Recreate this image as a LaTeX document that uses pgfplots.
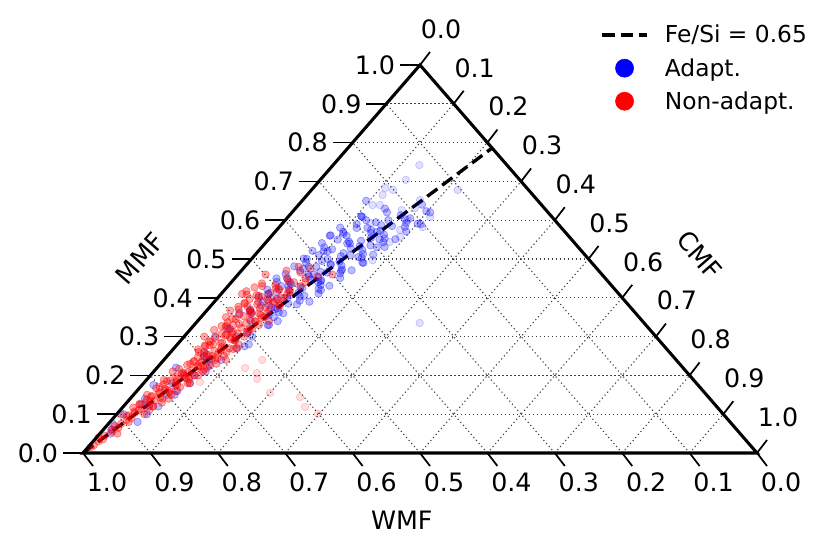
\documentclass[border=0pt]{standalone}
\usepackage{pgfplots}
\pgfplotsset{compat=1.18}
\usepackage{pgfplotstable}
\usepackage{fontspec}
\setmainfont{DejaVu Sans}

\pgfplotsset{
  dotleg/.style={legend image code/.code={\fill[##1] (17pt,0pt) circle (6.8pt);}},
  lineleg/.style={legend image code/.code={\draw[##1] (0pt,0pt) -- (34pt,0pt);}},
}

\pgfplotstableread{
m c
0.02 0.006
0.04 0.003
0.05 0.026
0.07 0.012
0.08 0.028
0.10 0.006
0.11 0.0275
0.12 0.044
0.13 0.028
0.14 0.057
0.15 0.020
0.16 0.048
0.17 0.029
0.18 0.065
0.19 0.045
0.20 0.065
0.21 0.028
0.22 0.061
0.23 0.044
0.24 0.092
0.25 0.066
0.26 0.042
0.27 0.093
0.28 0.053
0.29 0.080
0.30 0.030
0.31 0.0655
0.32 0.091
0.33 0.058
0.34 0.106
0.35 0.037
0.36 0.081
0.37 0.046
0.38 0.101
0.39 0.065
0.40 0.094
0.41 0.031
0.42 0.081
0.43 0.051
0.44 0.110
0.45 0.078
0.46 0.041
0.125 0.021
0.135 0.038
0.145 0.0285
0.155 0.050
0.165 0.039
0.175 0.052
0.185 0.032
0.195 0.053
0.205 0.044
0.215 0.072
0.225 0.058
0.235 0.047
0.245 0.077
0.255 0.056
0.265 0.072
0.275 0.044
0.285 0.064
0.295 0.079
0.305 0.060
0.315 0.088
0.325 0.049
0.335 0.075
0.345 0.054
0.355 0.086
0.365 0.065
0.375 0.083
0.385 0.047
0.395 0.076
0.405 0.058
0.415 0.099
0.425 0.074
0.188 0.026
0.208 0.052
0.228 0.073
0.248 0.056
0.268 0.089
0.288 0.043
0.308 0.075
0.328 0.049
0.348 0.091
0.368 0.064
0.388 0.088
0.408 0.039
0.198 0.060
0.238 0.058
0.258 0.072
0.278 0.049
0.298 0.069
0.318 0.058
0.338 0.087
0.358 0.070
0.378 0.055
0.398 0.089
0.097 0.019
0.103 0.025
0.100 0.041
0.107 0.023
0.113 0.0305
0.110 0.043
0.117 0.016
0.123 0.036
0.120 0.044
0.127 0.021
0.133 0.034
0.130 0.052
0.137 0.026
0.143 0.043
0.140 0.048
0.147 0.029
0.153 0.037
0.150 0.056
0.157 0.034
0.163 0.043
0.160 0.058
0.167 0.025
0.173 0.050
0.170 0.059
0.177 0.031
0.183 0.047
0.180 0.068
0.187 0.036
0.193 0.056
0.190 0.062
0.197 0.0395
0.203 0.0485
0.200 0.071
0.207 0.045
0.213 0.0555
0.210 0.073
0.217 0.034
0.223 0.063
0.220 0.074
0.227 0.041
0.233 0.059
0.230 0.083
0.237 0.046
0.243 0.070
0.240 0.076
0.247 0.047
0.253 0.058
0.250 0.084
0.257 0.051
0.263 0.0635
0.260 0.083
0.267 0.037
0.273 0.069
0.270 0.082
0.277 0.042
0.283 0.063
0.280 0.091
0.287 0.046
0.293 0.073
0.290 0.080
0.297 0.048
0.303 0.060
0.300 0.089
0.307 0.052
0.313 0.066
0.310 0.088
0.317 0.036
0.323 0.073
0.320 0.087
0.327 0.042
0.333 0.065
0.330 0.096
0.337 0.046
0.343 0.076
0.340 0.085
0.347 0.048
0.353 0.0615
0.350 0.094
0.357 0.053
0.363 0.0685
0.360 0.093
0.367 0.035
0.373 0.076
0.370 0.092
0.377 0.042
0.383 0.067
0.380 0.102
0.387 0.0465
0.393 0.079
0.390 0.089
0.397 0.049
0.403 0.063
0.400 0.099
0.407 0.054
0.413 0.071
0.410 0.098
0.417 0.034
0.423 0.079
0.420 0.097
0.427 0.041
0.433 0.069
0.430 0.108
0.437 0.047
0.443 0.083
0.440 0.093
0.470 0.067
0.465 0.090
0.455 0.120
0.475 0.100
0.460 0.140
0.480 0.080
0.450 0.105
0.015 0.004
0.030 0.008
0.035 0.012
0.045 0.010
0.055 0.016
0.060 0.013
0.065 0.020
0.075 0.019
0.085 0.022
0.090 0.027
0.095 0.018
}\reddata

\pgfplotstableread{
m c
0.240 0.146
0.219 0.131
0.206 0.155
0.191 0.163
0.155 0.200
0.144 0.250
0.119 0.270
0.101 0.298
0.183 0.082
}\redout

\pgfplotstableread{
m c
0.050 0.016
0.075 0.007
0.100 0.045
0.125 0.024
0.150 0.049
0.175 0.017
0.200 0.050
0.225 0.076
0.250 0.055
0.275 0.102
0.300 0.046
0.31 0.089
0.32 0.058
0.33 0.111
0.34 0.079
0.35 0.108
0.36 0.052
0.37 0.100
0.38 0.074
0.39 0.141
0.40 0.103
0.41 0.070
0.42 0.143
0.43 0.090
0.44 0.129
0.45 0.062
0.46 0.112
0.47 0.148
0.48 0.106
0.49 0.171
0.50 0.082
0.51 0.142
0.52 0.097
0.53 0.171
0.54 0.126
0.55 0.165
0.56 0.086
0.57 0.151
0.58 0.116
0.59 0.206
0.60 0.153
0.61 0.108
0.62 0.205
0.63 0.133
0.64 0.183
0.65 0.095
0.355 0.098
0.365 0.065
0.375 0.092
0.385 0.112
0.395 0.091
0.405 0.126
0.415 0.080
0.425 0.113
0.435 0.091
0.445 0.131
0.455 0.108
0.465 0.130
0.475 0.089
0.485 0.125
0.495 0.107
0.505 0.156
0.515 0.129
0.525 0.107
0.535 0.159
0.545 0.122
0.555 0.150
0.565 0.104
0.575 0.140
0.585 0.166
0.595 0.137
0.605 0.183
0.06 0.012
0.08 0.041
0.10 0.010
0.12 0.038
0.14 0.022
0.16 0.060
0.18 0.042
0.20 0.066
0.22 0.028
0.24 0.067
0.26 0.050
0.28 0.106
0.30 0.078
0.32 0.054
0.34 0.119
0.36 0.070
0.363 0.109
0.37 0.063
0.373 0.102
0.38 0.086
0.383 0.126
0.39 0.072
0.393 0.125
0.40 0.078
0.403 0.120
0.41 0.070
0.413 0.113
0.42 0.095
0.423 0.138
0.43 0.079
0.433 0.136
0.44 0.087
0.443 0.131
0.45 0.078
0.453 0.123
0.46 0.104
0.463 0.150
0.47 0.087
0.473 0.148
0.48 0.095
0.483 0.142
0.49 0.086
0.493 0.134
0.50 0.113
0.503 0.162
0.51 0.095
0.513 0.159
0.52 0.103
0.523 0.153
0.53 0.093
0.533 0.144
0.54 0.122
0.543 0.174
0.55 0.103
0.553 0.171
0.56 0.111
0.563 0.165
0.57 0.101
0.573 0.155
0.58 0.132
0.583 0.186
0.59 0.111
0.593 0.183
0.60 0.120
0.603 0.176
0.61 0.108
0.613 0.165
0.62 0.141
0.623 0.198
0.401 0.060
0.407 0.104
0.411 0.144
0.421 0.063
0.427 0.109
0.431 0.150
0.441 0.067
0.447 0.114
0.451 0.156
0.461 0.070
0.467 0.119
0.471 0.163
0.481 0.073
0.487 0.124
0.491 0.169
0.501 0.077
0.507 0.129
0.511 0.175
0.521 0.080
0.527 0.134
0.531 0.182
0.541 0.084
0.547 0.139
0.551 0.188
0.561 0.087
0.567 0.144
0.571 0.194
0.581 0.091
0.587 0.149
0.591 0.201
0.12 0.052
0.15 0.061
0.18 0.069
0.21 0.077
0.24 0.085
0.27 0.093
0.30 0.101
0.33 0.109
0.36 0.117
}\bluedata

\pgfplotstableread{
m c
0.742 0.128
0.704 0.127
0.678 0.217
0.683 0.107
0.678 0.121
0.665 0.112
0.335 0.332
0.639 0.110
0.639 0.121
0.652 0.174
0.631 0.177
0.608 0.211
0.582 0.213
0.626 0.160
0.601 0.181
0.575 0.183
0.544 0.183
0.608 0.111
0.593 0.130
0.557 0.192
0.497 0.181
}\blueout

\begin{document}
\begin{tikzpicture}
\path[use as bounding box] (0,0) rectangle (622.5pt,412.5pt);
\begin{scope}[x=505.5pt, y=291pt, shift={(62.25pt,72.75pt)}]
  \foreach \k in {1,...,9} {
    \pgfmathsetmacro\gA{\k/20}
    \pgfmathsetmacro\gB{\k/10}
    \pgfmathsetmacro\gC{1-\k/20}
    \pgfmathsetmacro\gD{1-\k/10}
    \pgfmathsetmacro\gE{(1+\k/10)/2}
    \draw[black!75, line width=0.8pt, dash pattern=on 0.9pt off 2.1pt]
      (\gA, \gB) -- (\gC, \gB);
    \draw[black!75, line width=0.8pt, dash pattern=on 0.9pt off 2.1pt]
      (\gB, 0) -- (\gE, \gD);
    \draw[black!75, line width=0.8pt, dash pattern=on 0.9pt off 2.1pt]
      (\gB, 0) -- (\gA, \gB);
  }
\end{scope}
\begin{axis}[
  at={(62.25pt,72.75pt)}, anchor=south west,
  scale only axis, width=505.5pt, height=291pt,
  xmin=0, xmax=1, ymin=0, ymax=1,
  hide axis, clip=false,
  legend style={at={(0.767,1.11)}, anchor=north west, draw=none, fill=none,
    font=\fontsize{17.5}{21}\selectfont, row sep=6pt, inner sep=0pt,
    /tikz/every odd column/.append style={column sep=10pt}},
  legend cell align=left,
]
\addlegendimage{black, line width=2.5pt, dash pattern=on 9.5pt off 4.5pt, lineleg}
\addlegendimage{blue, dotleg}
\addlegendimage{red, dotleg}
\addplot[forget plot, only marks, mark=*, mark size=2.8pt, blue,
  mark options={fill opacity=0.12, draw opacity=0.2, line width=0.5pt}]
  table[x expr=\thisrow{c}+0.5*\thisrow{m}, y=m] {\blueout};
\addplot[forget plot, only marks, mark=*, mark size=2.8pt, blue,
  mark options={fill opacity=0.26, draw opacity=0.36, line width=0.5pt}]
  table[x expr=\thisrow{c}+0.5*\thisrow{m}, y=m] {\bluedata};
\addplot[forget plot, only marks, mark=*, mark size=2.8pt, red,
  mark options={fill opacity=0.12, draw opacity=0.2, line width=0.5pt}]
  table[x expr=\thisrow{c}+0.5*\thisrow{m}, y=m] {\redout};
\addplot[forget plot, only marks, mark=*, mark size=2.8pt, red,
  mark options={fill opacity=0.34, draw opacity=0.42, line width=0.5pt}]
  table[x expr=\thisrow{c}+0.5*\thisrow{m}, y=m] {\reddata};
\addplot[forget plot, black, line width=2.5pt, dash pattern=on 9.5pt off 4.5pt]
  coordinates {(0,0) (0.607,0.786)};
\legend{Fe/Si = 0.65, Adapt., Non-adapt.}
\end{axis}
\begin{scope}[x=505.5pt, y=291pt, shift={(62.25pt,72.75pt)}, font=\fontsize{19}{22}\selectfont]
  \draw[black, line width=2.3pt, line join=miter] (0,0) -- (1,0) -- (0.5,1) -- cycle;
  \foreach \k/\l in {0/0.0,1/0.1,2/0.2,3/0.3,4/0.4,5/0.5,6/0.6,7/0.7,8/0.8,9/0.9,10/1.0} {
    \pgfmathsetmacro\gA{\k/20}
    \pgfmathsetmacro\gB{\k/10}
    \pgfmathsetmacro\gD{1-\k/10}
    \pgfmathsetmacro\gE{(1+\k/10)/2}
    \draw[line width=1.3pt] (\gA, \gB) -- ++(-15pt,0);
    \node[anchor=east, inner sep=0pt] at ([xshift=-18.5pt]\gA, \gB) {\l};
    \draw[line width=1.3pt] (\gD, 0) -- ++(7.5pt,-9.75pt);
    \node[inner sep=0pt] at ([xshift=18pt, yshift=-22pt]\gD, 0) {\l};
    \draw[line width=1.3pt] (\gE, \gD) -- ++(7.5pt,9.75pt);
    \node[inner sep=0pt] at ([xshift=15.75pt, yshift=27pt]\gE, \gD) {\l};
  }
  \node[rotate=49] at (0.0846,0.5026) {MMF};
  \node[rotate=-49] at (0.915,0.510) {CMF};
  \node at (0.473,-0.173) {WMF};
\end{scope}
\end{tikzpicture}
\end{document}
